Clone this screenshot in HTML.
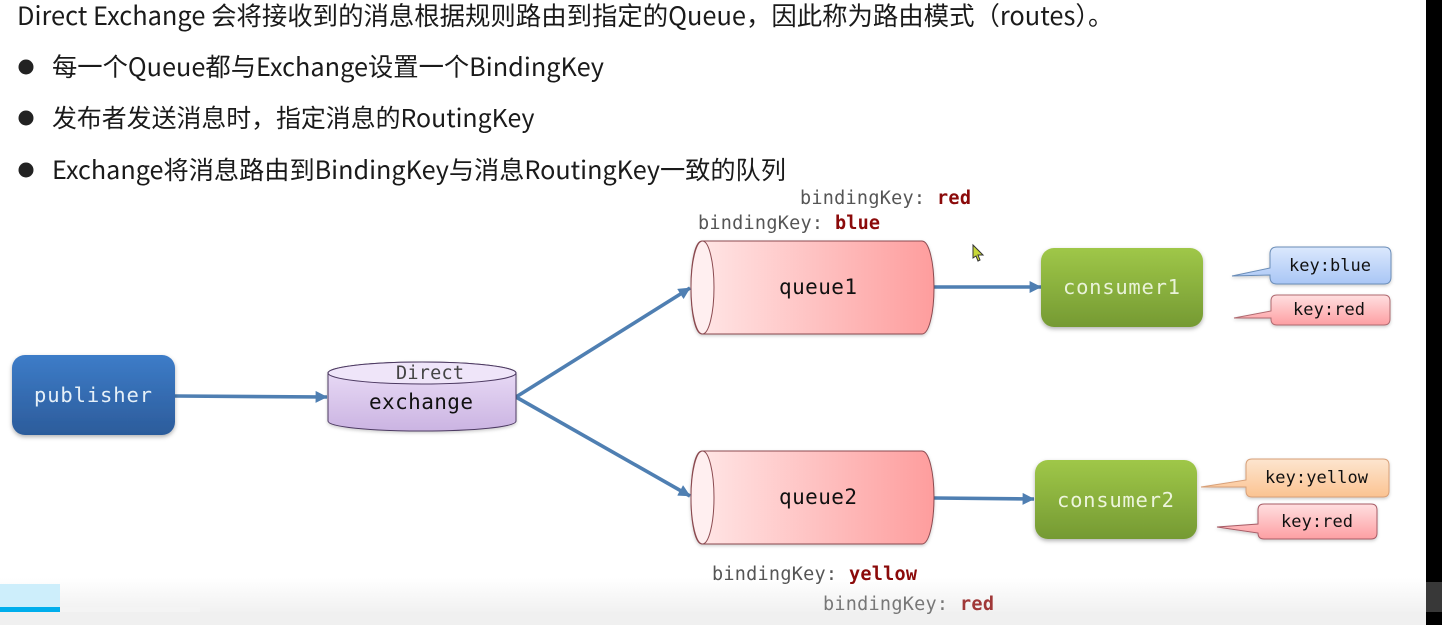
<!DOCTYPE html>
<html lang="zh">
<head>
<meta charset="utf-8">
<title>Direct Exchange</title>
<style>
html,body{margin:0;padding:0;width:1442px;height:625px;overflow:hidden;background:#000}
svg{display:block}
.n{font-family:"Noto Sans CJK SC","Liberation Sans",sans-serif;fill:#1a1a1a}
.m{font-family:"DejaVu Sans Mono","Liberation Mono",monospace}
.k{font-size:18.5px;fill:#555}
.v{font-weight:bold;fill:#8b0a0a}
</style>
</head>
<body>
<svg width="1442" height="625" viewBox="0 0 1442 625" xmlns="http://www.w3.org/2000/svg">
<defs>
<linearGradient id="pub" x1="0" y1="0" x2="0" y2="1"><stop offset="0" stop-color="#3d7cc8"/><stop offset="1" stop-color="#2c5c9b"/></linearGradient>
<linearGradient id="gr" x1="0" y1="0" x2="0" y2="1"><stop offset="0" stop-color="#9fc748"/><stop offset="1" stop-color="#759a33"/></linearGradient>
<linearGradient id="pur" x1="0" y1="0" x2="0" y2="1"><stop offset="0" stop-color="#ecdff8"/><stop offset="1" stop-color="#cbb4e2"/></linearGradient>
<linearGradient id="q" x1="0" y1="0" x2="1" y2="0"><stop offset="0" stop-color="#ffe8e8"/><stop offset="1" stop-color="#fe9d9d"/></linearGradient>
<linearGradient id="bl" x1="0" y1="0" x2="0" y2="1"><stop offset="0" stop-color="#dbe8fd"/><stop offset="1" stop-color="#a9c6f5"/></linearGradient>
<linearGradient id="rd" x1="0" y1="0" x2="0" y2="1"><stop offset="0" stop-color="#ffdfe0"/><stop offset="1" stop-color="#fd9fa3"/></linearGradient>
<linearGradient id="or" x1="0" y1="0" x2="0" y2="1"><stop offset="0" stop-color="#fde5cf"/><stop offset="1" stop-color="#fbc391"/></linearGradient>
<linearGradient id="bot" x1="0" y1="0" x2="0" y2="1"><stop offset="0" stop-color="#ffffff"/><stop offset="1" stop-color="#f1f1f1"/></linearGradient>
<filter id="sh" x="-10%" y="-10%" width="120%" height="130%"><feDropShadow dx="0" dy="2" stdDeviation="2" flood-color="#000" flood-opacity=".3"/></filter>
<filter id="sh2" x="-10%" y="-10%" width="120%" height="130%"><feDropShadow dx="0" dy="1.5" stdDeviation="1.5" flood-color="#000" flood-opacity=".2"/></filter>
<marker id="a" viewBox="0 0 10 10" refX="9.5" refY="5" markerWidth="12" markerHeight="12" markerUnits="userSpaceOnUse" orient="auto"><path d="M0 0L10 5L0 10Z" fill="#4f7fb2"/></marker>
</defs>

<rect x="0" y="0" width="1426" height="625" fill="#fff"/>
<rect x="0" y="578" width="1426" height="34" fill="url(#bot)"/>
<rect x="0" y="612" width="1426" height="13" fill="#f0f0f0"/>
<rect x="1426" y="582" width="16" height="30" fill="#383838"/>
<rect x="0" y="584" width="60" height="23" fill="#cdeefb"/>
<rect x="0" y="607" width="60" height="5" fill="#00aeec"/>
<rect x="60" y="607" width="140" height="5" fill="#f4f4f4"/>

<text class="n" x="17" y="25" font-size="25.4">Direct Exchange 会将接收到的消息根据规则路由到指定的Queue，因此称为路由模式（routes）。</text>
<circle cx="26" cy="67" r="7.5" fill="#222"/>
<text class="n" x="52" y="76" font-size="25.3">每一个Queue都与Exchange设置一个BindingKey</text>
<circle cx="26" cy="118" r="7.5" fill="#222"/>
<text class="n" x="52" y="127" font-size="24.9">发布者发送消息时，指定消息的RoutingKey</text>
<circle cx="26" cy="170" r="7.5" fill="#222"/>
<text class="n" x="52" y="179" font-size="25.2">Exchange将消息路由到BindingKey与消息RoutingKey一致的队列</text>

<g fill="none" stroke="#4f7fb2" stroke-width="3.6">
<path d="M175 396L327 397" marker-end="url(#a)"/>
<path d="M516 397L690 288" marker-end="url(#a)"/>
<path d="M516 397L690 496" marker-end="url(#a)"/>
<path d="M934 287L1041 287" marker-end="url(#a)"/>
<path d="M934 498L1034 499" marker-end="url(#a)"/>
</g>

<rect x="12" y="355" width="163" height="80" rx="13" fill="url(#pub)" filter="url(#sh)"/>
<text class="m" x="34" y="402" font-size="20.5" fill="#e6f0f8" textLength="118">publisher</text>

<g filter="url(#sh2)">
<path d="M328 373C328 367 370 362 422 362C474 362 516 367 516 373V421C516 427 474 431 422 431C370 431 328 427 328 421Z" fill="url(#pur)" stroke="#4d3a62" stroke-width="1"/>
</g>
<path d="M328 373C328 367 370 362 422 362C474 362 516 367 516 373C516 379 474 384 422 384C370 384 328 379 328 373Z" fill="#efe5f9" stroke="#4d3a62" stroke-width="1"/>
<text class="m" x="396" y="379" font-size="18.5" fill="#444" textLength="68">Direct</text>
<text class="m" x="369" y="409" font-size="21" fill="#111" textLength="104">exchange</text>

<g filter="url(#sh2)">
<path d="M702 241H922C929 241 934 262 934 287.500C934 313 929 334 922 334H702C695 334 691 313 691 287.500C691 262 695 241 702 241Z" fill="url(#q)" stroke="#8b4a50" stroke-width="1"/>
</g>
<ellipse cx="702.500" cy="287.500" rx="11.500" ry="46.500" fill="#ffeff0" stroke="#8b4a50" stroke-width="1"/>
<text class="m" x="779" y="294" font-size="21" fill="#111" textLength="78">queue1</text>

<g filter="url(#sh2)">
<path d="M702 451H922C929 451 934 472 934 497.500C934 523 929 544 922 544H702C695 544 691 523 691 497.500C691 472 695 451 702 451Z" fill="url(#q)" stroke="#8b4a50" stroke-width="1"/>
</g>
<ellipse cx="702.500" cy="497.500" rx="11.500" ry="46.500" fill="#ffeff0" stroke="#8b4a50" stroke-width="1"/>
<text class="m" x="779" y="504" font-size="21" fill="#111" textLength="78">queue2</text>

<rect x="1041" y="248" width="162" height="79" rx="13" fill="url(#gr)" filter="url(#sh)"/>
<text class="m" x="1063" y="294" font-size="20.5" fill="#e9f2d8" textLength="117">consumer1</text>
<rect x="1035" y="460" width="162" height="79" rx="13" fill="url(#gr)" filter="url(#sh)"/>
<text class="m" x="1057" y="507" font-size="20.5" fill="#edf5dc" textLength="117">consumer2</text>

<path d="M1270 268V254Q1270 247 1277 247H1384Q1391 247 1391 254V277Q1391 284 1384 284H1277Q1270 284 1270 277V275L1232 276Z" fill="url(#bl)" stroke="#6a8db8" stroke-width="1" filter="url(#sh2)"/>
<text class="m" x="1289" y="271" font-size="17" fill="#111" textLength="82">key:blue</text>

<path d="M1271 311V301Q1271 295 1277 295H1384Q1390 295 1390 301V319Q1390 325 1384 325H1277Q1271 325 1271 319V318L1234 318Z" fill="url(#rd)" stroke="#b06a70" stroke-width="1" filter="url(#sh2)"/>
<text class="m" x="1293" y="315" font-size="17" fill="#111" textLength="72">key:red</text>

<path d="M1246 480V465Q1246 459 1252 459H1383Q1389 459 1389 465V491Q1389 497 1383 497H1252Q1246 497 1246 491V487L1201 487Z" fill="url(#or)" stroke="#d8a078" stroke-width="1" filter="url(#sh2)"/>
<text class="m" x="1265" y="483" font-size="17" fill="#111" textLength="103">key:yellow</text>

<path d="M1258 524V510Q1258 504 1264 504H1371Q1377 504 1377 510V533Q1377 539 1371 539H1264Q1258 539 1258 533V533L1217 527Z" fill="url(#rd)" stroke="#a85c66" stroke-width="1" filter="url(#sh2)"/>
<text class="m" x="1281" y="527" font-size="17" fill="#111" textLength="72">key:red</text>

<text class="m k" x="800" y="204" textLength="125">bindingKey:</text>
<text class="m k v" x="937" y="204" textLength="34">red</text>
<text class="m k" x="698" y="229" textLength="125">bindingKey:</text>
<text class="m k v" x="835" y="229" textLength="45">blue</text>
<text class="m k" x="712" y="580" textLength="125">bindingKey:</text>
<text class="m k v" x="849" y="580" textLength="68">yellow</text>
<text class="m k" x="823" y="610" textLength="125" style="fill:#777">bindingKey:</text>
<text class="m k v" x="960" y="610" textLength="34" style="fill:#a03838">red</text>

<path d="M973 245L973 258L976 256L978 261L980 260L978 255L983 255Z" fill="#c8d838" stroke="#333" stroke-width="1"/>
</svg>
</body>
</html>
